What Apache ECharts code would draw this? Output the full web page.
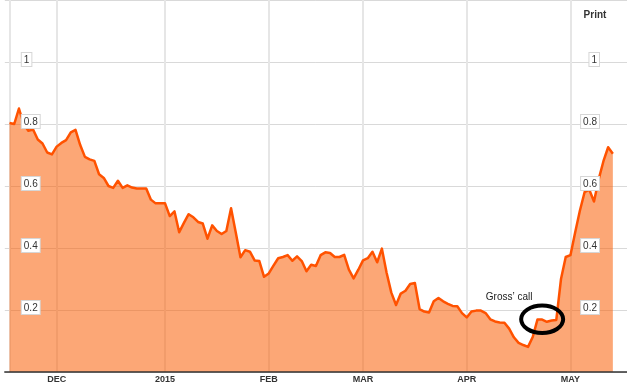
<!DOCTYPE html>
<html><head><meta charset="utf-8">
<script src="https://cdn.jsdelivr.net/npm/echarts@6.0.0/dist/echarts.min.js"></script>
<style>html,body{margin:0;padding:0;background:#fff}#c{width:627px;height:387px}</style>
</head><body><div id="c"></div>
<script>
const dates = [
'2014-11-17','2014-11-18','2014-11-19','2014-11-20','2014-11-21','2014-11-24','2014-11-25','2014-11-26','2014-11-27','2014-11-28',
'2014-12-01','2014-12-02','2014-12-03','2014-12-04','2014-12-05','2014-12-08','2014-12-09','2014-12-10','2014-12-11','2014-12-12',
'2014-12-15','2014-12-16','2014-12-17','2014-12-18','2014-12-19','2014-12-22','2014-12-23','2014-12-24','2014-12-25','2014-12-26',
'2014-12-29','2014-12-30','2014-12-31',
'2015-01-01','2015-01-02','2015-01-05','2015-01-06','2015-01-07','2015-01-08','2015-01-09','2015-01-12','2015-01-13','2015-01-14',
'2015-01-15','2015-01-16','2015-01-19','2015-01-20','2015-01-21','2015-01-22','2015-01-23','2015-01-26','2015-01-27','2015-01-28',
'2015-01-29','2015-01-30',
'2015-02-02','2015-02-03','2015-02-04','2015-02-05','2015-02-06','2015-02-09','2015-02-10','2015-02-11','2015-02-12','2015-02-13',
'2015-02-16','2015-02-17','2015-02-18','2015-02-19','2015-02-20','2015-02-23','2015-02-24','2015-02-25','2015-02-26','2015-02-27',
'2015-03-02','2015-03-03','2015-03-04','2015-03-05','2015-03-06','2015-03-09','2015-03-10','2015-03-11','2015-03-12','2015-03-13',
'2015-03-16','2015-03-17','2015-03-18','2015-03-19','2015-03-20','2015-03-23','2015-03-24','2015-03-25','2015-03-26','2015-03-27',
'2015-03-30','2015-03-31',
'2015-04-01','2015-04-02','2015-04-03','2015-04-06','2015-04-07','2015-04-08','2015-04-09','2015-04-10','2015-04-13','2015-04-14',
'2015-04-15','2015-04-16','2015-04-17','2015-04-20','2015-04-21','2015-04-22','2015-04-23','2015-04-24','2015-04-27','2015-04-28',
'2015-04-29','2015-04-30',
'2015-05-01','2015-05-04','2015-05-05','2015-05-06','2015-05-07','2015-05-08','2015-05-11','2015-05-12','2015-05-13','2015-05-14'
];
const values = [
0.803,0.800,0.850,0.800,0.778,0.782,0.750,0.737,0.708,0.702,
0.727,0.739,0.748,0.773,0.781,0.732,0.694,0.686,0.681,0.638,
0.626,0.600,0.594,0.617,0.594,0.602,0.595,0.592,0.592,0.592,
0.556,0.544,0.544,
0.544,0.503,0.518,0.451,0.481,0.509,0.499,0.484,0.479,0.430,
0.473,0.455,0.445,0.455,0.528,0.450,0.370,0.393,0.388,0.360,
0.358,0.307,
0.318,0.343,0.367,0.371,0.377,0.359,0.373,0.358,0.325,0.346,
0.342,0.377,0.386,0.384,0.371,0.371,0.378,0.330,0.302,0.330,
0.360,0.367,0.388,0.354,0.398,0.320,0.256,0.216,0.253,0.262,
0.284,0.287,0.203,0.195,0.192,0.228,0.239,0.228,0.220,0.213,
0.212,0.190,
0.176,0.195,0.198,0.198,0.190,0.170,0.163,0.160,0.159,0.140,
0.112,0.094,0.087,0.081,0.113,0.169,0.169,0.162,0.166,0.168,
0.300,0.371,
0.377,0.450,0.520,0.580,0.588,0.550,0.622,0.680,0.725,0.704
];
const padBefore = ['2014-11-14'];
const padAfter = ['2015-05-15','2015-05-18','2015-05-19'];
const tickDates = ['2014-12-01','2015-01-01','2015-02-02','2015-03-02','2015-04-01','2015-05-01'];
const tickLabels = ['DEC','2015','FEB','MAR','APR','MAY'];
const yMin = 0, yMax = 1.2, yStep = 0.2;
const noteText = 'Gross\u2019 call';
const noteDate = '2015-04-23', noteValue = 0.17;
const noteTextDate = '2015-04-14', noteTextValue = 0.24;
const printText = 'Print';

const axisDates = padBefore.concat(dates, padAfter);
const FONT = '"Liberation Sans", Arial, Helvetica, sans-serif';
const chart = echarts.init(document.getElementById('c'), null, {renderer:'canvas'});

const lineSet = new Set([dates[0]].concat(tickDates));
const labelMap = {};
tickDates.forEach((d,i)=>labelMap[d]=tickLabels[i]);

const yLabel = (pos, margin) => ({
  type:'value', position:pos, min:yMin, max:yMax, interval:yStep, z:10,
  axisLine:{show:false}, axisTick:{show:false}, splitLine:{show:false},
  axisLabel:{
    inside:true, margin:margin, showMinLabel:false, showMaxLabel:false,
    padding:[0,0,5,0],
    formatter: v => '{b|' + (+v.toFixed(1)) + '}',
    rich:{b:{backgroundColor:'#fff', borderColor:'#d6d6d6', borderWidth:1,
      padding:[2,2,1,2], fontSize:10, fontFamily:FONT, color:'#333', lineHeight:11}}
  }
});

chart.setOption({
  animation:false,
  backgroundColor:'#fff',
  grid:{left:4.8, right:0, top:-4, bottom:15, containLabel:false},
  xAxis:[
    {type:'category', data:axisDates, boundaryGap:false, position:'bottom', z:0,
     axisLine:{show:false}, axisTick:{show:false}, axisLabel:{show:false},
     splitLine:{show:true, interval:(i,v)=>lineSet.has(v), lineStyle:{color:'#e6e6e6', width:2}}},
    {type:'category', data:axisDates, boundaryGap:false, position:'bottom', z:10,
     axisLine:{show:true, lineStyle:{color:'#333', width:1.5}}, axisTick:{show:false},
     splitLine:{show:false},
     axisLabel:{interval:(i,v)=>v in labelMap, formatter:v=>labelMap[v]||'',
       fontSize:9, fontWeight:'bold', fontFamily:FONT, color:'#333', margin:3}}
  ],
  yAxis:[
    yLabel('left', 17),
    yLabel('right', 28),
    {type:'value', position:'left', min:yMin, max:yMax, interval:yStep, z:0,
     axisLine:{show:false}, axisTick:{show:false}, axisLabel:{show:false},
     splitLine:{show:true, lineStyle:{color:'#d9d9d9', width:1}}}
  ],
  series:[{
    type:'line', xAxisIndex:0, yAxisIndex:0, z:2,
    data: dates.map((d,i)=>[d, values[i]]),
    showSymbol:false, symbol:'none',
    lineStyle:{color:'#ff5200', width:2.5, join:'round'},
    areaStyle:{color:'rgba(249,98,10,0.56)', opacity:1}
  }],
  graphic:[
    {type:'text', x:595, y:15.5, z:100,
     style:{text:printText, font:'bold 10px ' + FONT, fill:'#333', align:'center', verticalAlign:'middle'}}
  ]
});

const c = chart.convertToPixel({seriesIndex:0}, [axisDates.indexOf(noteDate), noteValue]);
const t = chart.convertToPixel({seriesIndex:0}, [axisDates.indexOf(noteTextDate), noteTextValue]);
chart.setOption({
  graphic:[
    {type:'text', x:595, y:15.5, z:100,
     style:{text:printText, font:'bold 10px ' + FONT, fill:'#333', align:'center', verticalAlign:'middle'}},
    {type:'ellipse', z:100, shape:{cx:c[0], cy:c[1], rx:21, ry:13.7},
     style:{fill:'none', stroke:'#000', lineWidth:4}},
    {type:'text', x:t[0], y:t[1], z:100,
     style:{text:noteText, font:'10px ' + FONT, fill:'#222', align:'center', verticalAlign:'middle'}}
  ]
}, {replaceMerge:['graphic']});
</script></body></html>
